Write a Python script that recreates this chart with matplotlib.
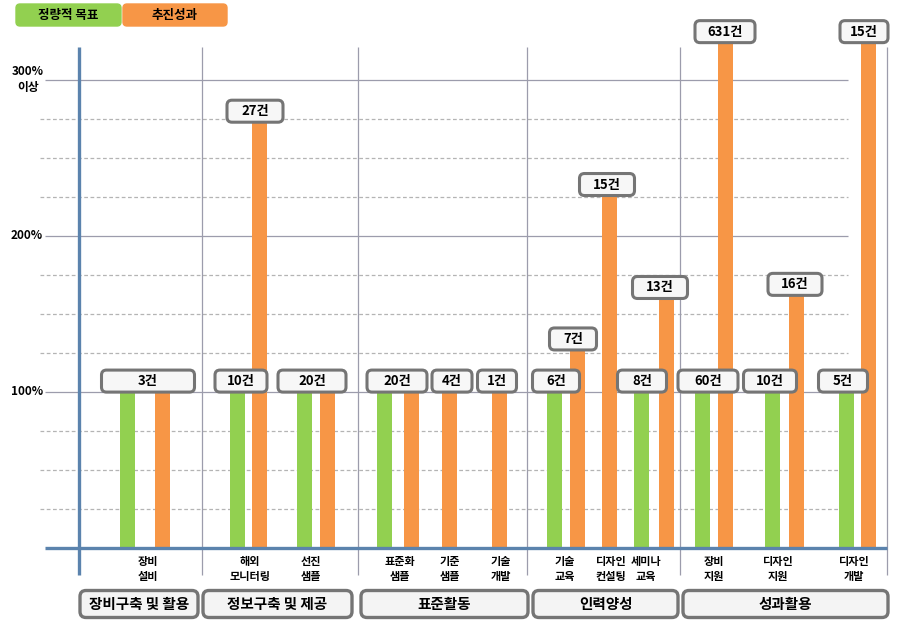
import matplotlib
matplotlib.use('Agg')
import matplotlib.pyplot as plt
from matplotlib.patches import FancyBboxPatch

plt.rcParams['font.family'] = ['Noto Sans CJK KR', 'DejaVu Sans']

# data
groups = ['장비구축 및 활용', '정보구축 및 제공', '표준활동', '인력양성', '성과활용']
subcats = ['장비\n설비', '해외\n모니터링', '선진\n샘플', '표준화\n샘플', '기준\n샘플', '기술\n개발',
           '기술\n교육', '디자인\n컨설팅', '세미나\n교육', '장비\n지원', '디자인\n지원', '디자인\n개발']
target = [100, 100, 100, 100, None, None, 100, None, 100, 100, 100, 100]
actual = [100, 273, 100, 100, 100, 100, 127, 226, 160, 324, 162, 324]
target_txt = ['3건', '10건', '20건', '20건', '4건', '1건', '6건', None, '8건', '60건', '10건', '5건']
actual_txt = [None, '27건', None, None, None, None, '7건', '15건', '13건', '631건', '16건', '15건']
yticks = [100, 200, 300]
ytick_txt = ['100%', '200%', '300%\n이상']

# layout (x in pixels, y in percent)
PX = 1.56
def pct(row):
    return (548 - row) / PX

green_x = [127, 237, 304, 384, 0, 0, 554, 0, 641, 702, 772, 846]
orange_x = [162, 259, 327, 411, 449, 499, 577, 609, 666, 725, 796, 868]
tick_x = [148, 250, 311, 400, 450, 501, 565, 611, 646, 714, 778, 854]
tlab_x = [148, 241, 312, 397, 452, 497, 556, 0, 642, 708, 770, 843]
tlab_w = [93, 52, 68, 60, 40, 39, 47, 0, 49, 60, 53, 49]
alab_x = [0, 255, 0, 0, 0, 0, 573, 607, 660, 725, 795, 864]
alab_w = [0, 56, 0, 0, 0, 0, 47, 55, 55, 60, 54, 48]
group_box = [(80, 198), (203, 352), (361, 528), (533, 678), (683, 888)]
separators = [202, 358, 527, 680, 887]

GREEN = '#92d050'
ORANGE = '#f79646'
AXIS = '#5b83ad'
GRID = '#9c9cac'

fig = plt.figure(figsize=(8.98, 6.2), dpi=100)
ax = fig.add_axes([0, 0, 1, 1])
ax.set_xlim(0, 898)
ax.set_ylim(pct(620), pct(0))
ax.axis('off')

# grid
ax.hlines(yticks, 45, 848, color=GRID, lw=0.9, zorder=1)
minor = [v for v in range(25, 300, 25) if v % 100]
ax.hlines(minor, 40, 848, color='#b4b4b4', lw=0.9, linestyles=(0, (3, 2)), zorder=1)
ax.vlines(separators, pct(575), pct(47), color=GRID, lw=0.9, zorder=1)

# bars
for x, v in zip(green_x, target):
    if v is not None:
        ax.bar(x, v, width=15, color=GREEN, zorder=3)
for x, v in zip(orange_x, actual):
    ax.bar(x, v, width=15, color=ORANGE, zorder=3)

# axes lines
ax.vlines(79, pct(575), pct(47), color=AXIS, lw=2.4, zorder=4)
ax.hlines(0, 45, 887, color=AXIS, lw=2.4, zorder=4)

def label_box(xc, yc, w, txt, h=22, fs=9.5, lw=2.2, fc='#f7f7f7', r=5):
    hp = h / PX
    p = FancyBboxPatch((xc - w / 2, yc - hp / 2), w, hp,
                       boxstyle='round,pad=0,rounding_size=%d' % r,
                       mutation_aspect=1 / PX, fc=fc, ec='#757575', lw=lw, zorder=5)
    ax.add_patch(p)
    ax.text(xc, yc, txt, ha='center', va='center', fontsize=fs,
            fontweight='bold', zorder=6)

for x, w, t, v in zip(tlab_x, tlab_w, target_txt, target):
    if t is None:
        continue
    base = v if v is not None else 100
    label_box(x, base + 7, w, t)
for x, w, t, v in zip(alab_x, alab_w, actual_txt, actual):
    if t is None:
        continue
    label_box(x, v + 7, w, t)

# x tick labels
for x, t in zip(tick_x, subcats):
    ax.text(x, pct(569), t, ha='center', va='center', fontsize=8,
            fontweight='bold', linespacing=1.25)

# y tick labels
for v, t in zip(yticks, ytick_txt):
    if '\n' in t:
        ax.text(28, v, t, ha='center', va='center', fontsize=8.5,
                fontweight='bold', linespacing=1.3)
    else:
        ax.text(43, v, t, ha='right', va='center', fontsize=8.5, fontweight='bold')

# group boxes
for (x0, x1), g in zip(group_box, groups):
    label_box((x0 + x1) / 2, pct(604), x1 - x0, g, h=27, fs=10.5, lw=2.4, fc='#f4f4f4', r=6)

# legend
for (x0, x1), t, c in [((16, 121), '정량적 목표', GREEN), ((123, 227), '추진성과', ORANGE)]:
    hp = 22 / PX
    p = FancyBboxPatch((x0, pct(26)), x1 - x0, hp, boxstyle='round,pad=0,rounding_size=4',
                       mutation_aspect=1 / PX, fc=c, ec=c, lw=1, zorder=5)
    ax.add_patch(p)
    ax.text((x0 + x1) / 2, pct(15), t, ha='center', va='center', fontsize=9,
            fontweight='bold', zorder=6)

fig.savefig('out.png', dpi=100)
